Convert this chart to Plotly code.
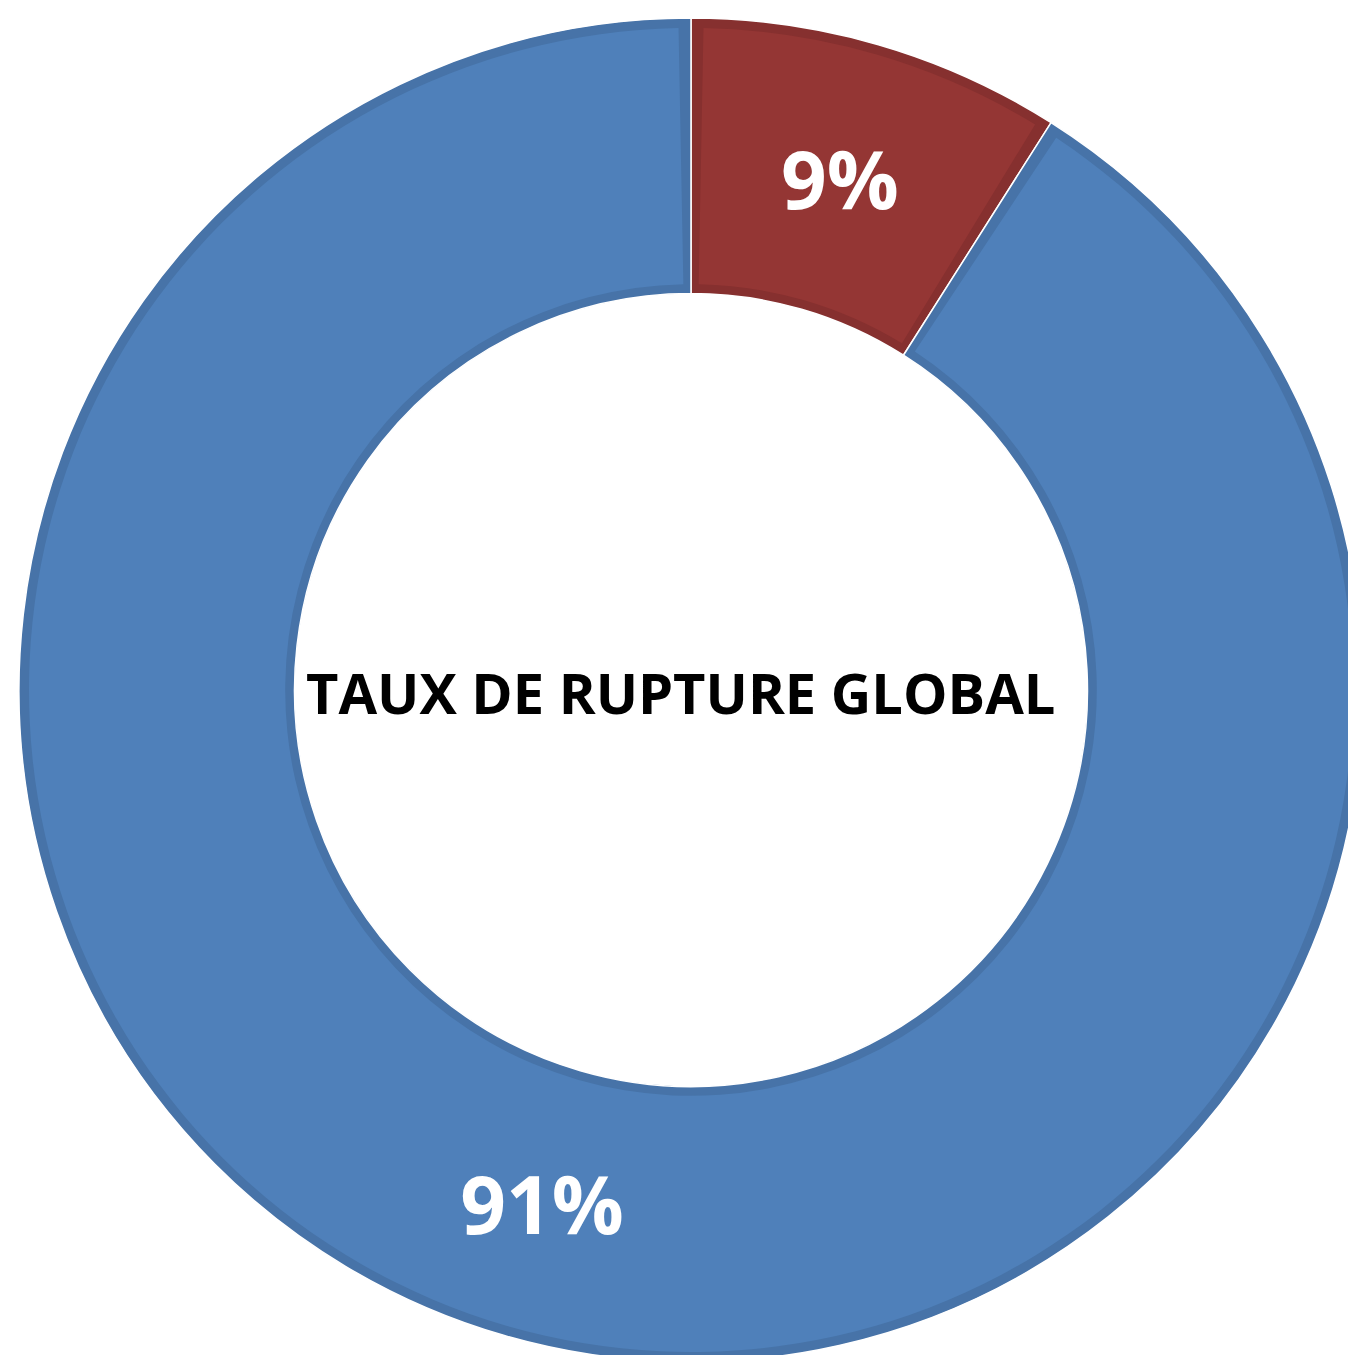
import plotly.graph_objects as go

labels = ['Rupture', 'Disponible']
values = [9, 91]
pct_labels = ['9%', '91%']
slice_colors = ['#943634', '#4F80BA']
edge_colors = ['#86302F', '#4773A8']

centre_text = 'TAUX DE RUPTURE GLOBAL'

W, H = 1356, 1355
band = 10          # width of the darker rim on each slice, px
gap = 0.30         # same rim along the seams, as a share of the 100 total

# ring box in figure px (left, right, top, bottom)
bx0, bx1, by0, by1 = 11, 1355, 10, 1354


def box_domain(inset):
    return dict(x=[(bx0 + inset) / W, (bx1 - inset) / W],
                y=[1 - (by1 - inset) / H, 1 - (by0 + inset) / H])


# face layer: each slice trimmed by a thin transparent slice on both sides
face_vals, face_cols, face_txt = [], [], []
for v, c, t in zip(values, slice_colors, pct_labels):
    face_vals += [gap, v - 2 * gap, gap]
    face_cols += ['rgba(0,0,0,0)', c, 'rgba(0,0,0,0)']
    face_txt += ['', t, '']

fig = go.Figure()

# rim layer (full ring, darker colours)
fig.add_trace(go.Pie(
    labels=labels,
    values=values,
    hole=0.590,
    sort=False,
    direction='clockwise',
    rotation=0,
    marker=dict(colors=edge_colors, line=dict(color='white', width=1.5)),
    textinfo='none',
    hoverinfo='skip',
    domain=box_domain(0),
    showlegend=False,
))

# face layer (lighter fill, inset by the rim width)
fig.add_trace(go.Pie(
    values=face_vals,
    text=face_txt,
    hole=0.613,
    sort=False,
    direction='clockwise',
    rotation=0,
    marker=dict(colors=face_cols, line=dict(width=0)),
    textinfo='text',
    textposition='inside',
    insidetextorientation='horizontal',
    textfont=dict(family='Open Sans', size=80, color='white', weight='bold'),
    hoverinfo='skip',
    domain=box_domain(band),
    showlegend=False,
))

fig.add_annotation(
    text=centre_text,
    x=0.496, y=0.495, xref='paper', yref='paper',
    showarrow=False,
    font=dict(family='Open Sans', size=56, color='black', weight='bold'),
)

fig.update_layout(
    width=W, height=H,
    margin=dict(l=0, r=0, t=0, b=0),
    paper_bgcolor='white',
    plot_bgcolor='white',
)

# the ring runs off the right/bottom edge like the original; no scrollbars
fig.write_html("out.html", post_script="document.documentElement.style.overflow='hidden';"
                                       "document.body.style.overflow='hidden';")
